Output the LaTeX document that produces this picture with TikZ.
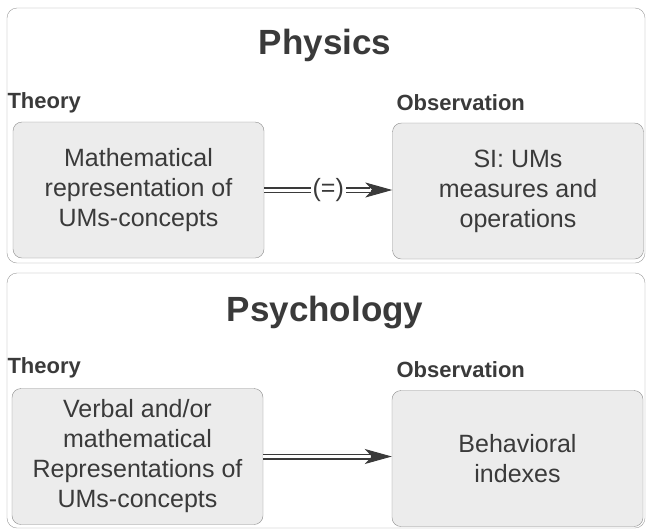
\documentclass[tikz,border=0pt]{standalone}
\usepackage{fontspec}
\setmainfont{Liberation Sans}
\usetikzlibrary{arrows.meta,positioning}
\definecolor{ink}{HTML}{3A3A3A}
\definecolor{frame}{HTML}{9A9A9A}
\definecolor{boxgray}{HTML}{ECECEC}
\definecolor{edge}{HTML}{8C8C8C}

\begin{document}
\begin{tikzpicture}[x=1pt,y=-1pt,
  panel/.style={rectangle,rounded corners=10pt,draw=frame,fill=white,minimum width=638pt,minimum height=255pt},
  cbox/.style={rectangle,rounded corners=9pt,draw=edge,fill=boxgray,minimum width=251pt,minimum height=136pt,align=center,text=ink,font=\fontsize{25}{30}\selectfont},
  ttl/.style={text=ink,font=\fontsize{35}{40}\selectfont\bfseries},
  lbl/.style={anchor=west,text=ink,font=\fontsize{22}{26}\selectfont\bfseries},
  dbl/.style={double=white,double distance=3pt,line width=1.5pt,draw=ink,shorten >=22pt},
  tip/.style={draw=ink,fill=ink,line width=1pt,-{Stealth[length=27pt,width=15pt,inset=7pt,fill=ink]}}]
\useasboundingbox (0,0) rectangle (647,531);
% Physics
\node[panel] (phys) at (326,135.5) {};
\node[ttl] (tphys) at (325,45) {Physics};
\node[cbox] (th1) at (138.5,190) {Mathematical\\representation of\\UMs-concepts};
\node[cbox] (ob1) at (518,191) {SI: UMs\\measures and\\operations};
\node[lbl] (lth1) at (4,103) {Theory};
\node[lbl] (lob1) at (393,103) {Observation};
\coordinate (e1) at (th1.east -| ob1.west);
\coordinate (s1) at ([xshift=-21pt]e1);
\draw[dbl] (th1.east) -- node[fill=white,inner sep=2pt,text=ink,font=\fontsize{25}{30}\selectfont] (eq) {(=)} (e1);
\draw[tip] (s1) -- (e1);
% Psychology
\node[panel] (psy) at (326,400.5) {};
\node[ttl] (tpsy) at (325,313) {Psychology};
\node[cbox] (th2) at (137.5,456.5) {Verbal and/or\\mathematical\\Representations of\\UMs-concepts};
\node[cbox] (ob2) at (517.5,458.5) {Behavioral\\indexes};
\node[lbl] (lth2) at (4,368) {Theory};
\node[lbl] (lob2) at (393,370) {Observation};
\coordinate (e2) at (th2.east -| ob2.west);
\coordinate (s2) at ([xshift=-21pt]e2);
\draw[dbl] (th2.east) -- (e2);
\draw[tip] (s2) -- (e2);
\end{tikzpicture}
\end{document}
